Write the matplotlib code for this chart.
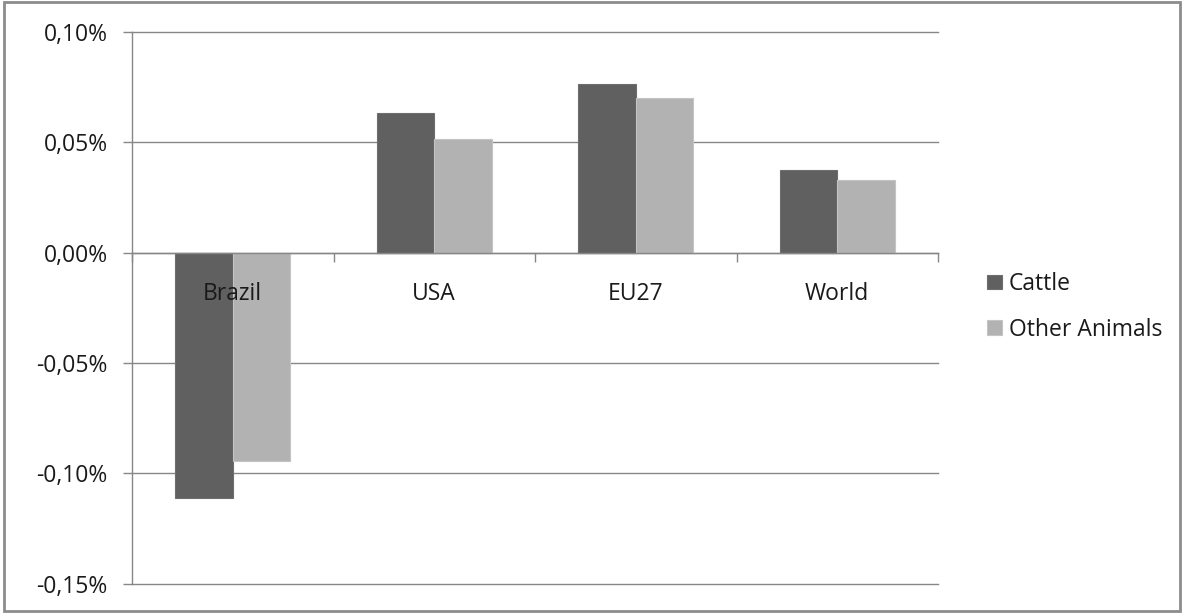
import numpy as np
import matplotlib.pyplot as plt
from matplotlib.patches import Rectangle
from matplotlib.ticker import FixedLocator, FuncFormatter, NullFormatter

regions = ['Brazil', 'USA', 'EU27', 'World']
cattle = [-0.1113, 0.0630, 0.0762, 0.0374]
other_animals = [-0.0946, 0.0513, 0.0698, 0.0327]
y_ticks = [-0.15, -0.10, -0.05, 0.0, 0.05, 0.10]

plt.rcParams['font.family'] = ['Open Sans', 'DejaVu Sans']
grid_col = '#878787'
text_col = '#1a1a1a'
fs = 16.5

fig = plt.figure(figsize=(11.85, 6.13), dpi=100)
ax = fig.add_axes([132 / 1185, 1 - 583.7 / 613, (938 - 132) / 1185, (583.7 - 31.7) / 613])

x = np.arange(len(regions))
w = 0.285
ax.bar(x - w / 2, cattle, w, color='#606060', edgecolor='#6e6e6e', linewidth=0.8,
       label='Cattle', zorder=3)
ax.bar(x + w / 2, other_animals, w, color='#b2b2b2', edgecolor='#c4c4c4', linewidth=0.8,
       label='Other Animals', zorder=3)

ax.set_xlim(-0.5, len(regions) - 0.5)
ax.set_ylim(-0.15, 0.10)

# y axis: percent labels with a decimal comma
ax.yaxis.set_major_locator(FixedLocator(y_ticks))
ax.yaxis.set_major_formatter(FuncFormatter(lambda v, p: f"{round(v, 4):.2f}%".replace('.', ',').replace('-0,00', '0,00')))
ax.yaxis.grid(True, color=grid_col, linewidth=1.0, zorder=0)
for gl in ax.get_ygridlines():
    gl.set_clip_on(False)
ax.tick_params(axis='y', length=6.5, width=1.0, color=grid_col, pad=11,
               labelsize=fs, labelcolor=text_col)

# category axis sits on the zero line, ticks between groups
ax.spines['bottom'].set_position(('data', 0))
ax.xaxis.set_major_locator(FixedLocator(np.arange(len(regions) + 1) - 0.5))
ax.xaxis.set_major_formatter(NullFormatter())
ax.tick_params(axis='x', which='major', length=6.5, width=1.0, color=grid_col)

# category names drawn over the bars, just below the zero line
for i, name in enumerate(regions):
    ax.annotate(name, xy=(x[i], 0), xytext=(0, -30), textcoords='offset points',
                ha='center', va='center', fontsize=fs, color=text_col, zorder=10)

for side in ['top', 'right']:
    ax.spines[side].set_visible(False)
for side in ['left', 'bottom']:
    ax.spines[side].set_color(grid_col)
    ax.spines[side].set_linewidth(1.0)
    ax.spines[side].set_zorder(4)

leg = ax.legend(loc='center left', bbox_to_anchor=(976 / 1185, 1 - 307 / 613),
                bbox_transform=fig.transFigure, frameon=False, fontsize=fs,
                handlelength=0.62, handleheight=0.62, handletextpad=0.3,
                labelspacing=0.95, borderpad=0)
for t in leg.get_texts():
    t.set_color(text_col)

# chart area border
fig.patches.append(Rectangle((0.003, 0.003), 0.993, 0.994, transform=fig.transFigure,
                             fill=False, edgecolor='#8c8c8c', linewidth=2.0))

fig.savefig('out.png', dpi=100)
